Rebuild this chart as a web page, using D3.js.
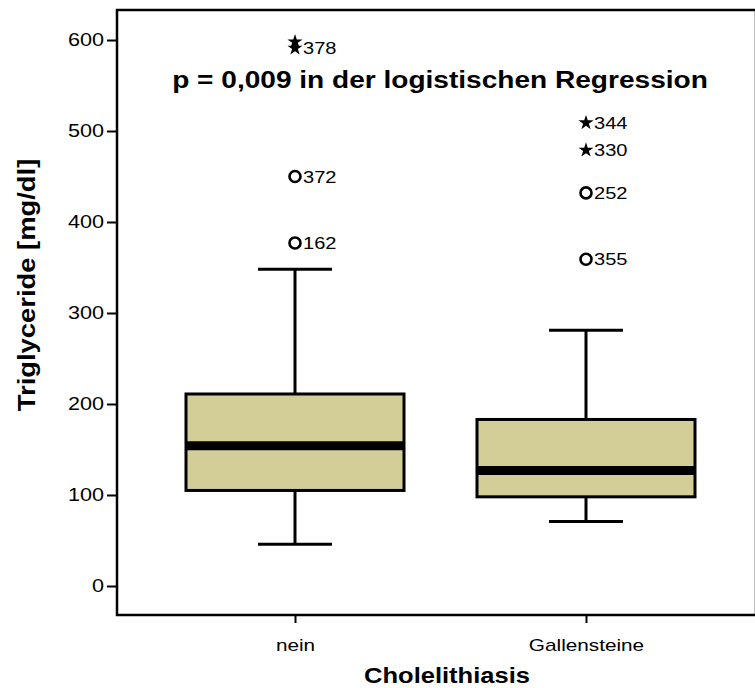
<!DOCTYPE html>
<html>
<head>
<meta charset="utf-8">
<script src="https://cdn.jsdelivr.net/npm/d3@7"></script>
<style>
  html, body { margin: 0; padding: 0; background: #fff; }
  svg { display: block; font-family: "Liberation Sans", Arial, Helvetica, sans-serif; }
</style>
</head>
<body>
<svg id="chart" width="755" height="688"></svg>
<script>
// Triglyceride by gallstone status
const categories = ["nein", "Gallensteine"];
const whiskerLow = [46, 71];
const q1 = [105, 98];
const median = [154, 127];
const q3 = [211, 183];
const whiskerHigh = [348, 281];

// Outliers: group index, value, case number, kind ("o" = mild, "*" = extreme)
const outlierGroup = [0, 0, 0, 0, 1, 1, 1, 1];
const outlierValue = [598, 591, 450, 377, 509, 479, 432, 359];
const outlierCase  = ["", "378", "372", "162", "344", "330", "252", "355"];
const outlierKind  = ["*", "*", "o", "o", "*", "*", "o", "o"];

const yTicks = [0, 100, 200, 300, 400, 500, 600];

const svg = d3.select("#chart");
const frame = { left: 117, top: 10, right: 756, bottom: 615 };

const y = d3.scaleLinear().domain([0, 600]).range([586, 40]);
const x = d3.scalePoint().domain(categories).range([295, 586]);
const boxW = 218, capW = 74;

// widen glyphs horizontally by factor k
function stretch(sel, k) {
  sel.each(function () {
    const w = this.getComputedTextLength();
    d3.select(this).attr("textLength", w * k).attr("lengthAdjust", "spacingAndGlyphs");
  });
}

// plot frame
svg.append("rect")
  .attr("x", frame.left).attr("y", frame.top)
  .attr("width", frame.right - frame.left).attr("height", frame.bottom - frame.top)
  .attr("fill", "none").attr("stroke", "#000").attr("stroke-width", 2.5);

// y axis
const yAxis = svg.append("g")
  .attr("transform", `translate(${frame.left},0)`)
  .call(d3.axisLeft(y).tickValues(yTicks).tickSize(10).tickPadding(3));
yAxis.select(".domain").remove();
yAxis.selectAll("line").attr("stroke", "#000").attr("stroke-width", 2);
yAxis.selectAll("text").attr("font-size", 18).attr("fill", "#000")
  .attr("font-family", "Liberation Sans, Arial, sans-serif")
  .call(stretch, 1.2);

// x axis
const xAxis = svg.append("g")
  .attr("transform", `translate(0,${frame.bottom})`)
  .call(d3.axisBottom(x).tickSize(8).tickPadding(16));
xAxis.select(".domain").remove();
xAxis.selectAll("line").attr("stroke", "#000").attr("stroke-width", 2);
xAxis.selectAll("text").attr("font-size", 17).attr("fill", "#000")
  .attr("font-family", "Liberation Sans, Arial, sans-serif")
  .call(stretch, 1.22);

// boxes
const g = svg.append("g");
categories.forEach((c, i) => {
  const cx = x(c);
  // whiskers
  g.append("line").attr("x1", cx).attr("x2", cx)
    .attr("y1", y(whiskerHigh[i])).attr("y2", y(q3[i]))
    .attr("stroke", "#000").attr("stroke-width", 3);
  g.append("line").attr("x1", cx).attr("x2", cx)
    .attr("y1", y(q1[i])).attr("y2", y(whiskerLow[i]))
    .attr("stroke", "#000").attr("stroke-width", 3);
  [whiskerHigh[i], whiskerLow[i]].forEach(v => {
    g.append("line").attr("x1", cx - capW / 2).attr("x2", cx + capW / 2)
      .attr("y1", y(v)).attr("y2", y(v))
      .attr("stroke", "#000").attr("stroke-width", 3);
  });
  // box
  g.append("rect")
    .attr("x", cx - boxW / 2).attr("y", y(q3[i]))
    .attr("width", boxW).attr("height", y(q1[i]) - y(q3[i]))
    .attr("fill", "#d3cd98").attr("stroke", "#000").attr("stroke-width", 3);
  // median
  g.append("line").attr("x1", cx - boxW / 2).attr("x2", cx + boxW / 2)
    .attr("y1", y(median[i])).attr("y2", y(median[i]))
    .attr("stroke", "#000").attr("stroke-width", 9);
});

// outliers
const star = d3.symbol().type(d3.symbolStar).size(70);
outlierValue.forEach((v, k) => {
  const cx = x(categories[outlierGroup[k]]);
  const cy = y(v);
  if (outlierKind[k] === "o") {
    g.append("circle").attr("cx", cx).attr("cy", cy).attr("r", 5.5)
      .attr("fill", "#fff").attr("stroke", "#000").attr("stroke-width", 2.6);
  } else {
    g.append("path").attr("d", star)
      .attr("transform", `translate(${cx},${cy})`).attr("fill", "#000");
  }
  if (outlierCase[k]) {
    g.append("text").attr("x", cx + 8).attr("y", cy + 6)
      .attr("font-size", 17).attr("fill", "#000").text(outlierCase[k])
      .call(stretch, 1.18);
  }
});

// annotation
svg.append("text").attr("x", 440).attr("y", 88).attr("text-anchor", "middle")
  .attr("font-size", 23).attr("font-weight", "bold").attr("fill", "#000")
  .text("p = 0,009 in der logistischen Regression")
  .call(stretch, 1.22);

// axis titles
svg.append("text").attr("x", 447).attr("y", 683).attr("text-anchor", "middle")
  .attr("font-size", 22).attr("font-weight", "bold").attr("fill", "#000")
  .text("Cholelithiasis")
  .call(stretch, 1.16);
svg.append("text")
  .attr("transform", "translate(35,285) rotate(-90)")
  .attr("text-anchor", "middle")
  .attr("font-size", 23).attr("font-weight", "bold").attr("fill", "#000")
  .text("Triglyceride [mg/dl]")
  .call(stretch, 1.19);
</script>
</body>
</html>
